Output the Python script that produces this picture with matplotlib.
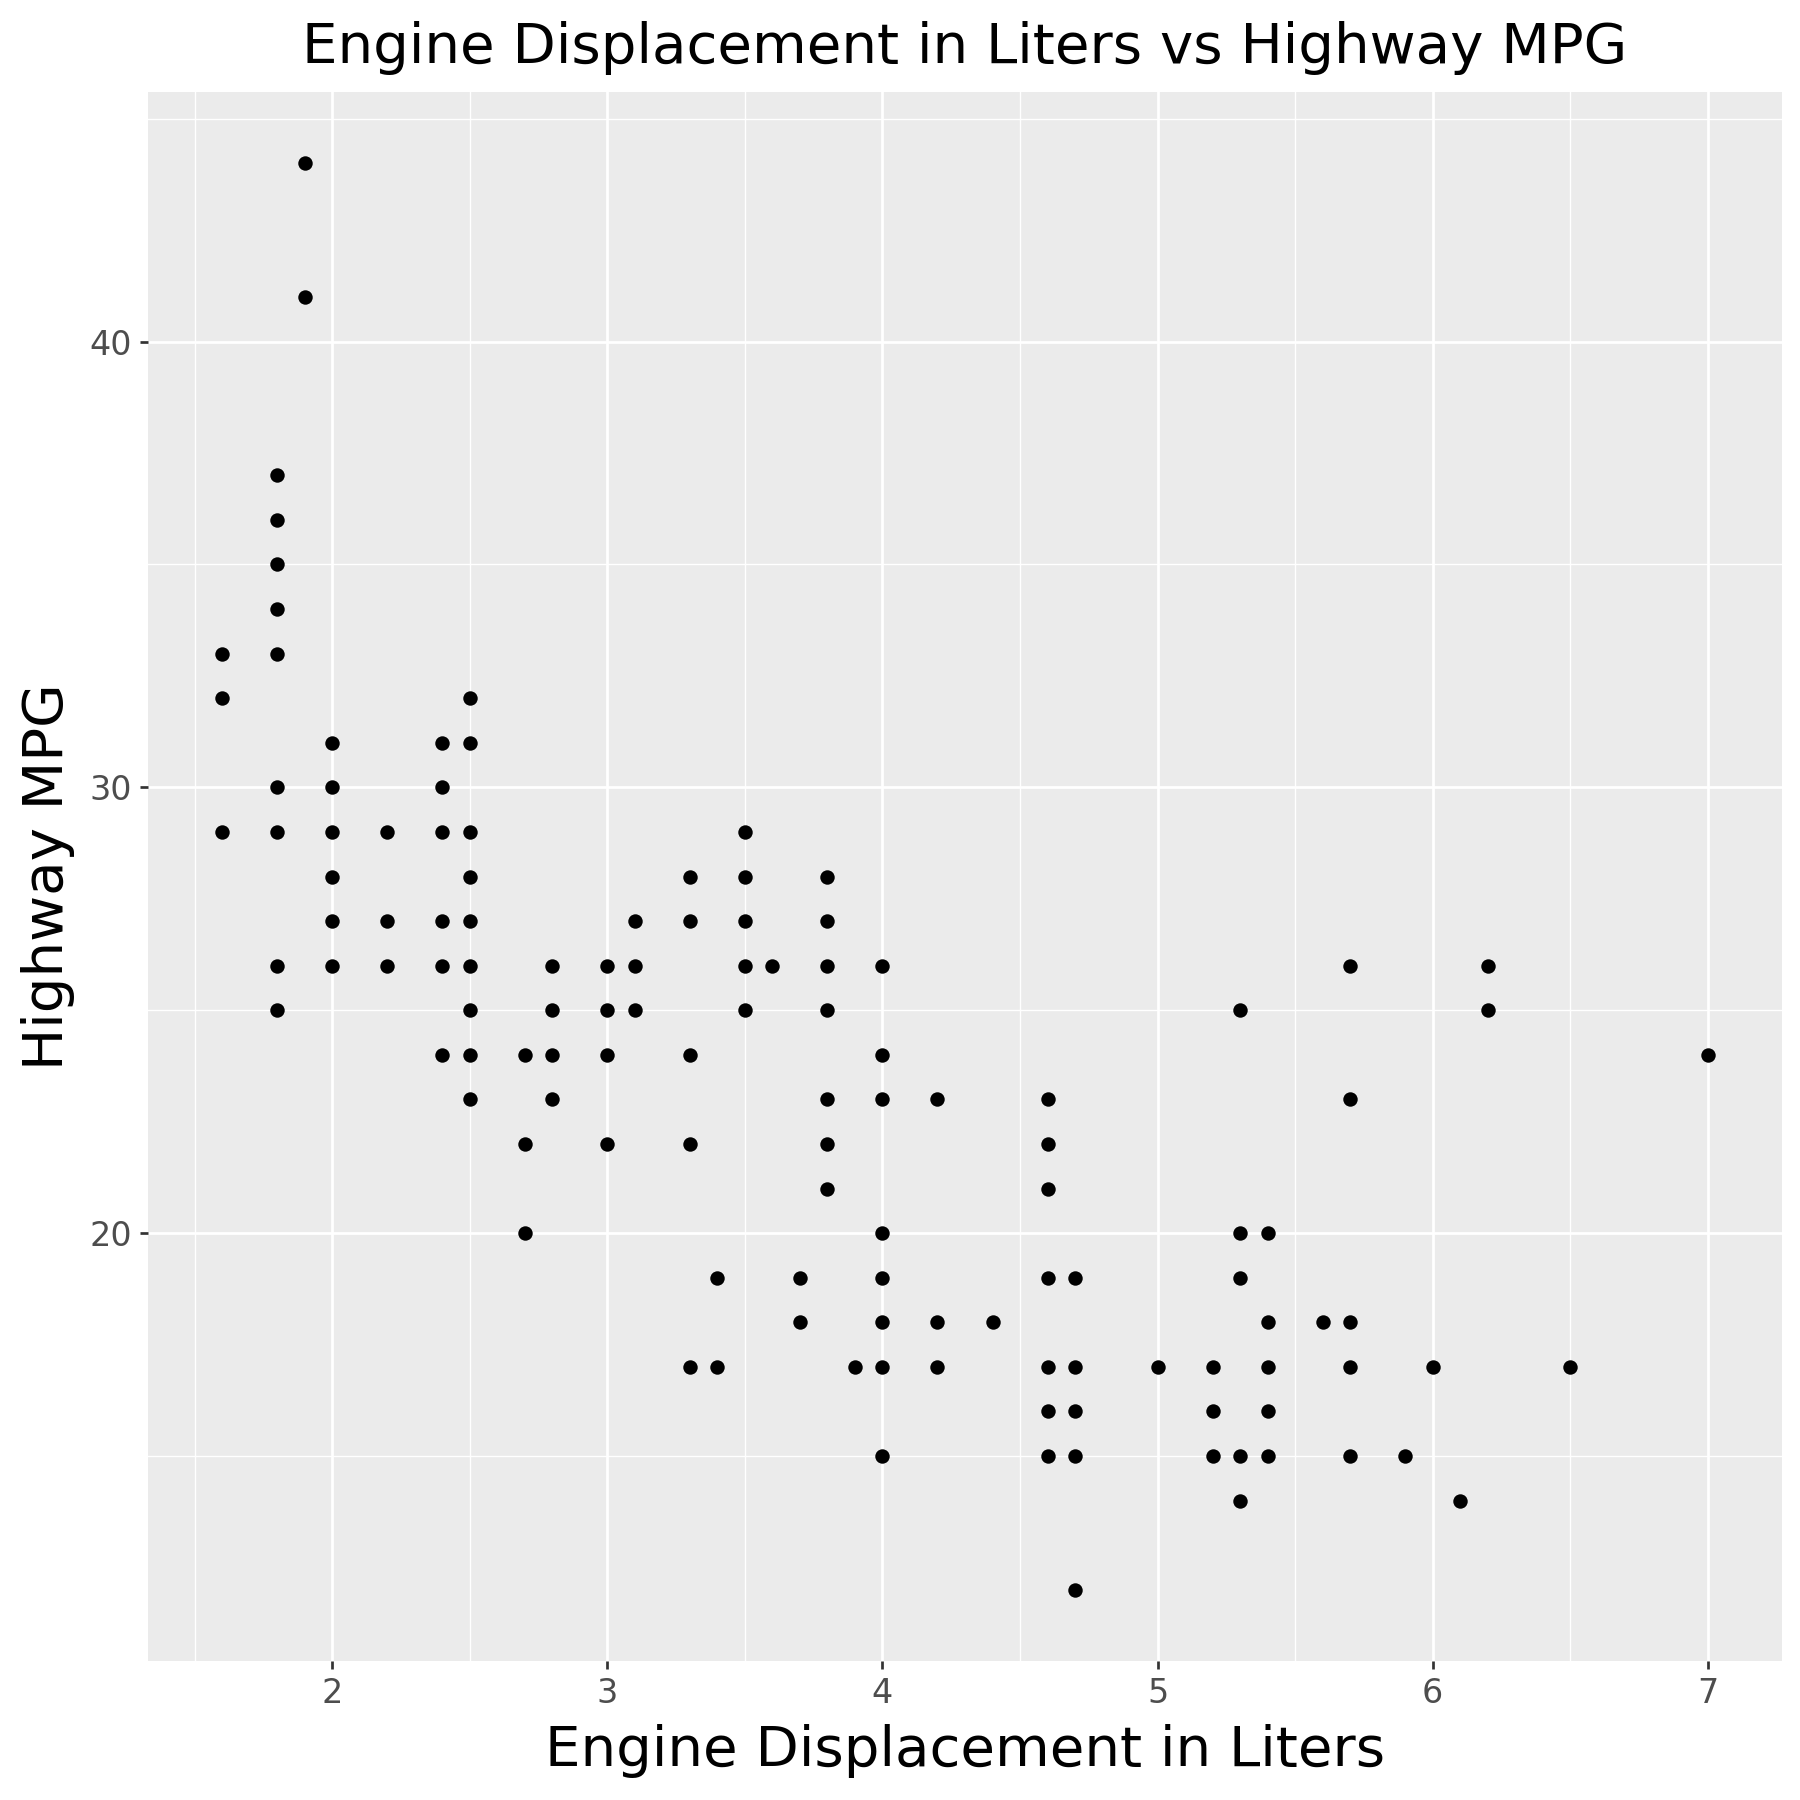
import matplotlib
matplotlib.use("Agg")
import matplotlib.pyplot as plt
import numpy as np

# Engine displacement (liters) -> highway mpg values observed
displ_groups = [1.6, 1.8, 1.9, 2.0, 2.2, 2.4, 2.5, 2.7, 2.8, 3.0, 3.1, 3.3, 3.4, 3.5, 3.6,
                3.7, 3.8, 3.9, 4.0, 4.2, 4.4, 4.6, 4.7, 5.0, 5.2, 5.3, 5.4, 5.6, 5.7,
                5.9, 6.0, 6.1, 6.2, 6.5, 7.0]
hwy_groups = [
    [33, 32, 29],
    [37, 36, 35, 34, 33, 30, 29, 26, 25],
    [44, 41],
    [31, 30, 29, 28, 27, 26],
    [29, 27, 26],
    [31, 30, 29, 27, 26, 24],
    [32, 31, 29, 28, 27, 26, 25, 24, 23],
    [24, 22, 20],
    [26, 25, 24, 23],
    [26, 25, 24, 22],
    [27, 26, 25],
    [28, 27, 24, 22, 17],
    [19, 17],
    [29, 28, 27, 26, 25],
    [26],
    [19, 18],
    [28, 27, 26, 25, 23, 22, 21],
    [17],
    [26, 24, 23, 20, 19, 18, 17, 15],
    [23, 18, 17],
    [18],
    [23, 22, 21, 19, 17, 16, 15],
    [19, 17, 16, 15, 12],
    [17],
    [17, 16, 15],
    [25, 20, 19, 15, 14],
    [20, 18, 17, 16, 15],
    [18],
    [26, 23, 18, 17, 15],
    [15],
    [17],
    [14],
    [26, 25],
    [17],
    [24],
]

x_ticks = [2, 3, 4, 5, 6, 7]
y_ticks = [20, 30, 40]

displ = []
hwy = []
for d, hs in zip(displ_groups, hwy_groups):
    for h in hs:
        displ.append(d)
        hwy.append(h)
displ = np.array(displ)
hwy = np.array(hwy)

fig = plt.figure(figsize=(6, 6), dpi=300)
ax = fig.add_axes([148/1800, 1 - 1661/1800, (1782-148)/1800, (1661-92)/1800])
ax.set_facecolor("#EBEBEB")
for s in ax.spines.values():
    s.set_visible(False)

xr = displ.max() - displ.min()
yr = hwy.max() - hwy.min()
ax.set_xlim(displ.min() - 0.05*xr, displ.max() + 0.05*xr)
ax.set_ylim(hwy.min() - 0.05*yr, hwy.max() + 0.05*yr)

ax.set_xticks(x_ticks)
ax.set_yticks(y_ticks)
ax.set_xticks([1.5, 2.5, 3.5, 4.5, 5.5, 6.5], minor=True)
ax.set_yticks([15, 25, 35, 45], minor=True)
ax.grid(which="major", color="white", linewidth=0.65)
ax.grid(which="minor", color="white", linewidth=0.33)
ax.set_axisbelow(True)
ax.tick_params(which="major", length=2.0, width=0.65, color="#333333",
               labelcolor="#4D4D4D", labelsize=8, pad=1.8)
ax.tick_params(which="minor", length=0)

ax.scatter(displ, hwy, s=12, color="black", linewidths=0, zorder=3)

ax.set_xlabel("Engine Displacement in Liters", fontsize=13.5, color="black", labelpad=3.5)
ax.set_ylabel("Highway MPG", fontsize=13.5, color="black", labelpad=3.5)
ax.set_title("Engine Displacement in Liters vs Highway MPG", fontsize=13.5, color="black", pad=7)

fig.savefig("out.png", dpi=300)
